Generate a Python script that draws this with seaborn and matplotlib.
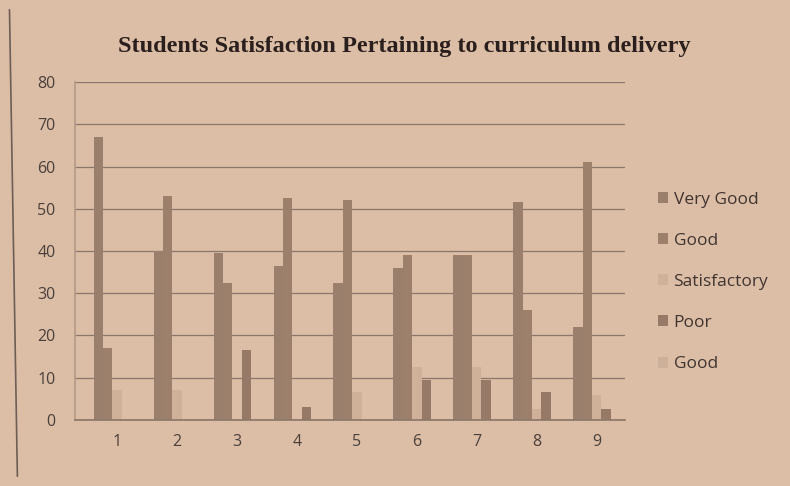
import numpy as np
import pandas as pd
import matplotlib
matplotlib.use('Agg')
import matplotlib.pyplot as plt
import seaborn as sns

## Data
groups       = ['1', '2', '3', '4', '5', '6', '7', '8', '9']
very_good    = [67, 40, 39.5, 36.5, 32.5, 36, 39, 51.5, 22]
good         = [17, 53, 32.5, 52.5, 52, 39, 39, 26, 61]
satisfactory = [7, 7, 0, 0, 6.5, 12.5, 12.5, 2.5, 6]
poor         = [0, 0, 16.5, 3, 0, 9.5, 9.5, 6.5, 2.5]
good_2       = [0, 0, 0, 0, 0, 0, 0, 0, 0]

series_keys   = ['Very Good', 'Good', 'Satisfactory', 'Poor', 'Good (2)']
legend_labels = ['Very Good', 'Good', 'Satisfactory', 'Poor', 'Good']
colors        = ['#9a7f6c', '#9c806b', '#cfb19a', '#967a67', '#cdb09a']

data = pd.DataFrame({
    'group':  groups * 5,
    'series': np.repeat(series_keys, len(groups)),
    'value':  very_good + good + satisfactory + poor + good_2,
})

bg = '#dcbea6'
sns.set_theme(style='white')
plt.rcParams['font.family'] = ['Open Sans', 'DejaVu Sans']

fig = plt.figure(figsize=(7.9, 4.86), dpi=100, facecolor=bg)
ax = fig.add_axes([0.095, 0.136, 0.696, 0.695], facecolor=bg)

sns.barplot(data=data, x='group', y='value', hue='series', hue_order=series_keys,
            palette=colors, width=0.78, saturation=1, linewidth=0, ax=ax, legend=True)

ax.set_ylim(0, 80)
ax.set_yticks(range(0, 81, 10))
ax.set_xlim(-0.7, 8.47)
ax.grid(axis='y', color='#8a766a', linewidth=0.9)
ax.set_axisbelow(True)
for side in ['top', 'right']:
    ax.spines[side].set_visible(False)
ax.spines['left'].set_color('#b49c8a')
ax.spines['bottom'].set_color('#8c786b')
ax.set_xlabel('')
ax.set_ylabel('')
ax.tick_params(axis='both', length=0, labelsize=11.5, labelcolor='#4a3f3a', pad=10)
ax.tick_params(axis='y', pad=14)

## Title
fig.text(0.512, 0.905, 'Students Satisfaction Pertaining to curriculum delivery',
         ha='center', va='center', fontsize=17.5, fontweight='bold',
         family='Liberation Serif', color='#2a1f1c')

## Legend
handles, _ = ax.get_legend_handles_labels()
ax.legend(handles, legend_labels, loc='center left', bbox_to_anchor=(0.813, 0.42),
          bbox_transform=fig.transFigure, frameon=False, fontsize=12.5,
          labelspacing=1.45, handlelength=0.6, handleheight=0.6, handletextpad=0.3,
          labelcolor='#3f3430')

## outer border of the printed chart
fig.add_artist(plt.Line2D([0.012, 0.022], [0.98, 0.02], color='#6e5e55', linewidth=1.2))

fig.savefig('out.png', dpi=100, facecolor=bg)
